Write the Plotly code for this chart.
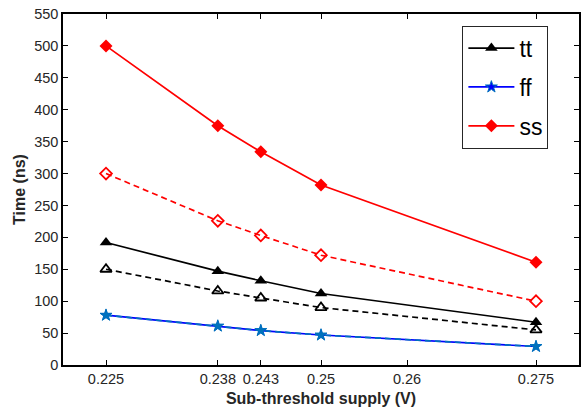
import plotly.graph_objects as go

# Sub-threshold supply voltages (V)
supply = [0.225, 0.238, 0.243, 0.25, 0.275]

# Delay (ns) per process corner; solid = filled markers, dashed = open markers
tt_solid = [192, 147, 132, 112, 67]
tt_dashed = [150, 116, 105, 90, 55]
ff_solid = [78, 61, 54, 47, 29]
ff_dashed = [78, 61, 54, 47, 29]
ss_solid = [500, 375, 334, 282, 161]
ss_dashed = [300, 226, 203, 172, 100]

x_ticks = [0.225, 0.238, 0.243, 0.25, 0.26, 0.275]
x_tick_text = ["0.225", "0.238", "0.243", "0.25", "0.26", "0.275"]
y_ticks = list(range(0, 551, 50))

BLUE2 = "rgb(0,114,189)"
DASH = "6px,4px"
FONT = "Liberation Sans, Arial, sans-serif"
LW = 1.7

fig = go.Figure()

fig.add_trace(go.Scatter(x=supply, y=tt_dashed, mode="lines+markers", showlegend=False,
                         line=dict(color="black", width=LW, dash=DASH),
                         marker=dict(symbol="triangle-up-open", size=10, color="black",
                                     line=dict(width=1.8))))
fig.add_trace(go.Scatter(x=supply, y=ss_dashed, mode="lines+markers", showlegend=False,
                         line=dict(color="red", width=LW, dash=DASH),
                         marker=dict(symbol="diamond-open", size=9, color="red",
                                     line=dict(width=1.8))))

fig.add_trace(go.Scatter(x=supply, y=tt_solid, mode="lines+markers", name="tt",
                         legendgroup="tt",
                         line=dict(color="black", width=LW),
                         marker=dict(symbol="triangle-up", size=11, color="black")))
fig.add_trace(go.Scatter(x=supply, y=ff_solid, mode="lines+markers", name="ff",
                         legendgroup="ff",
                         line=dict(color="blue", width=LW),
                         marker=dict(symbol="star", size=9, color="blue",
                                     line=dict(color=BLUE2, width=1))))
fig.add_trace(go.Scatter(x=supply, y=ff_dashed, mode="lines+markers", showlegend=False,
                         legendgroup="ff",
                         line=dict(color=BLUE2, width=LW, dash=DASH),
                         marker=dict(symbol="star", size=9, color=BLUE2)))
fig.add_trace(go.Scatter(x=supply, y=ss_solid, mode="lines+markers", name="ss",
                         legendgroup="ss",
                         line=dict(color="red", width=LW),
                         marker=dict(symbol="diamond", size=10, color="red")))

axis_common = dict(
    showgrid=False, zeroline=False, showline=True, linecolor="black", linewidth=1.5,
    mirror="allticks", ticks="inside", ticklen=5, tickcolor="black", tickwidth=1,
    tickfont=dict(family=FONT, size=14.5, color="#262626"),
)

fig.update_layout(
    width=582, height=411,
    margin=dict(l=63, r=1, t=14, b=46),
    plot_bgcolor="white", paper_bgcolor="white",
    xaxis=dict(range=[0.22, 0.28], tickvals=x_ticks, ticktext=x_tick_text,
               title=dict(text="<b>Sub-threshold supply (V)</b>", standoff=7,
                          font=dict(family=FONT, size=16, color="#262626")),
               **axis_common),
    yaxis=dict(range=[0, 550], tickvals=y_ticks,
               title=dict(text="<b>Time (ns)</b>", standoff=5,
                          font=dict(family=FONT, size=16, color="#262626")),
               **axis_common),
    legend=dict(x=0.774, y=0.967, xanchor="left", yanchor="top",
                bgcolor="white", bordercolor="#262626", borderwidth=1,
                font=dict(family=FONT, size=23, color="black"),
                tracegroupgap=6, itemwidth=46),
)

fig.write_html("out.html")
